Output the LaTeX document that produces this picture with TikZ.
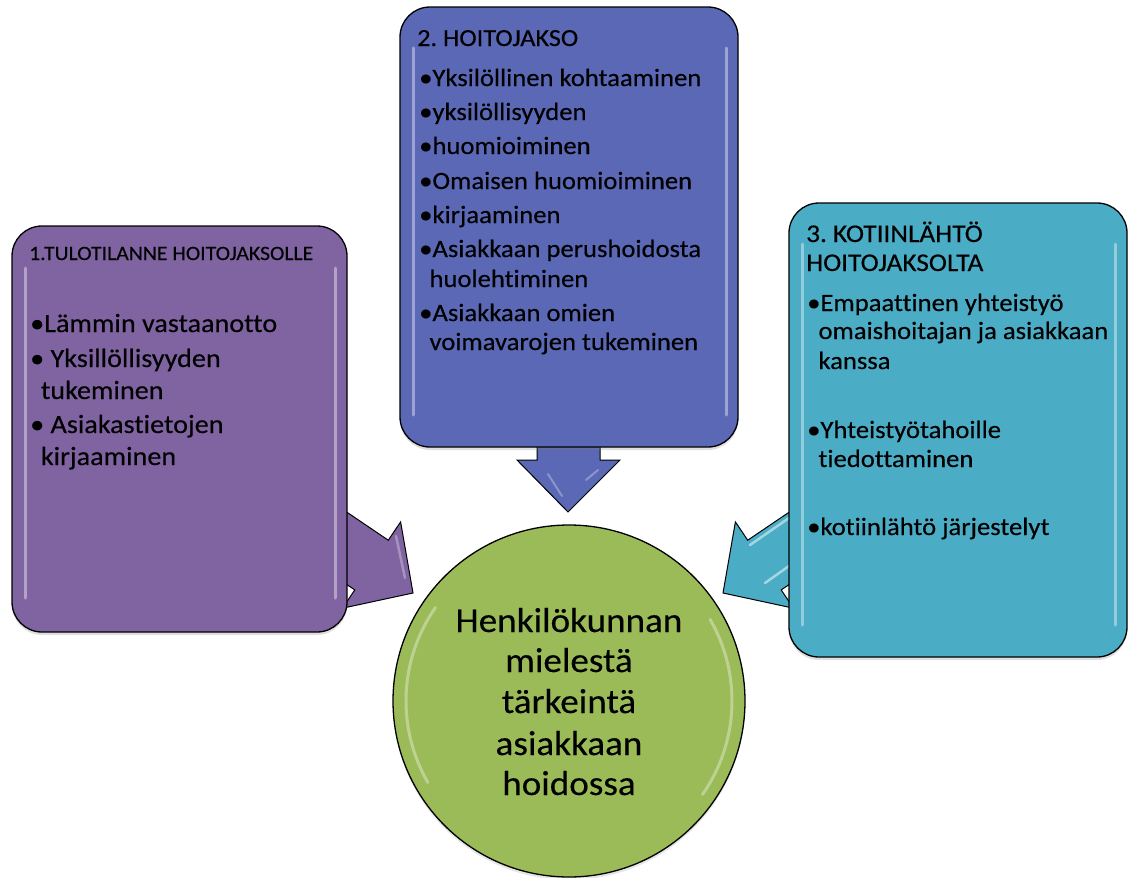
\documentclass[tikz,border=0pt]{standalone}
\usepackage{fontspec}
\setmainfont{Carlito}[FakeStretch=1.07, Ligatures={NoCommon}, FakeBold=0.3]
\frenchspacing
\usetikzlibrary{shadows}
\definecolor{cpurple}{HTML}{8064A2}
\definecolor{cblue}{HTML}{5A68B5}
\definecolor{caqua}{HTML}{4BACC6}
\definecolor{cgreen}{HTML}{9BBB59}
\tikzset{
  panel/.style={draw=black, line width=1.3pt, rounded corners=30pt,
    drop shadow={opacity=0.25, shadow xshift=0pt, shadow yshift=-3pt}},
  blockarrow/.style={draw=black, line width=1pt, line join=miter},
  gloss/.style={draw=white, line width=3pt, line cap=round, opacity=0.4},
  hdrL/.style={anchor=base west, inner sep=0pt, font=\fontsize{20.3}{25}\selectfont},
  txtL/.style={anchor=base west, inner sep=0pt, font=\fontsize{26.3}{30}\selectfont},
  txt/.style={anchor=base west, inner sep=0pt, font=\fontsize{24.9}{29}\selectfont},
  ctxt/.style={anchor=base, inner sep=0pt, font=\fontsize{34.7}{40}\selectfont},
}
\begin{document}
\begin{tikzpicture}[x=1pt, y=-1pt]
\useasboundingbox (0,0) rectangle (1130,878);

% block arrows (behind the panels)
\coordinate (tipL) at (413,593);
\coordinate (tipM) at (568,512);
\coordinate (tipR) at (723,593);
\draw[blockarrow, fill=cpurple] (tipL) -- (400.6,521.9) -- (388.3,540.2) -- (338.6,506.6)
  -- (305.0,556.4) -- (354.8,589.9) -- (342.5,608.2) -- cycle;
\draw[blockarrow, fill=cblue] (tipM) -- (620,460) -- (600,460) -- (600,400)
  -- (537,400) -- (537,460) -- (517,460) -- cycle;
\draw[blockarrow, fill=caqua] (tipR) -- (735.4,521.9) -- (747.7,540.2) -- (797.4,506.6)
  -- (831.0,556.4) -- (781.2,589.9) -- (793.5,608.2) -- cycle;
% arrow highlights
\draw[gloss, line width=2.5pt, opacity=0.3] (396,536) -- (405,578);
\draw[gloss, line width=2pt, opacity=0.3] (562,496) -- (548,474);
\draw[gloss, line width=2pt, opacity=0.3] (586,480) -- (598,470);
\draw[gloss, line width=2.5pt, opacity=0.5] (750,545) -- (789,518);
\draw[gloss, line width=2.5pt, opacity=0.5] (765,583) -- (789,566);

% panels
\draw[panel, fill=cpurple] (12,226) rectangle (347,632);
\draw[panel, fill=cblue] (400,7) rectangle (738,447);
\draw[panel, fill=caqua] (789,203) rectangle (1127,657);
\draw[gloss] (25,268) -- (25,598);
\draw[gloss] (335,268) -- (335,598);
\draw[gloss] (413,48) -- (413,415);
\draw[gloss] (726,48) -- (726,415);
\draw[gloss] (802,244) -- (802,625);
\draw[gloss] (1115,244) -- (1115,625);

% circle
\node[draw=black, line width=1.3pt, fill=cgreen, circle, minimum size=352pt,
  inner sep=0pt, drop shadow={opacity=0.2, shadow xshift=0pt, shadow yshift=-3pt}] (hub) at (569,701) {};
\draw[gloss, line width=3pt, opacity=0.35] (hub.center) ++(150:163) arc[start angle=150, end angle=215, radius=163];
\draw[gloss, line width=3pt, opacity=0.35] (hub.center) ++(-30:163) arc[start angle=-30, end angle=35, radius=163];

% texts: left panel
\node[hdrL] (l0) at (29,260) {1.TULOTILANNE HOITOJAKSOLLE};
\node[txtL] (l1) at (30,332) {•Lämmin vastaanotto};
\node[txtL] (l2) at (30,367) {• Yksillöllisyyden};
\node[txtL] (l3) at (40.7,399) {tukeminen};
\node[txtL] (l4) at (30,433) {• Asiakastietojen};
\node[txtL] (l5) at (40.7,465) {kirjaaminen};

% middle panel
\node[txt, font=\fontsize{24.5}{28}\selectfont] (m0) at (417,46) {2. HOITOJAKSO};
\node[txt] (m1) at (419,86) {•Yksilöllinen kohtaaminen};
\node[txt] (m2) at (419,120) {•yksilöllisyyden};
\node[txt] (m3) at (419,154) {•huomioiminen};
\node[txt] (m4) at (419,189) {•Omaisen huomioiminen};
\node[txt] (m5) at (419,223) {•kirjaaminen};
\node[txt] (m6) at (419,257) {•Asiakkaan perushoidosta};
\node[txt] (m7) at (429.3,287) {huolehtiminen};
\node[txt] (m8) at (419,321) {•Asiakkaan omien};
\node[txt] (m9) at (429.3,350) {voimavarojen tukeminen};

% right panel
\node[txt, font=\fontsize{25.5}{29}\selectfont] (r0) at (806,242) {3. KOTIINLÄHTÖ};
\node[txt, font=\fontsize{25.5}{29}\selectfont] (r1) at (806,271) {HOITOJAKSOLTA};
\node[txt] (r2) at (807,311) {•Empaattinen yhteistyö};
\node[txt] (r3) at (818.3,339) {omaishoitajan ja asiakkaan};
\node[txt] (r4) at (818.3,369) {kanssa};
\node[txt] (r5) at (807,438) {•Yhteistyötahoille};
\node[txt] (r6) at (818.3,467) {tiedottaminen};
\node[txt] (r7) at (807,535) {•kotiinlähtö järjestelyt};

% circle text
\node[ctxt] (c1) at (569,632) {Henkilökunnan};
\node[ctxt] (c2) at (569,672) {mielestä};
\node[ctxt] (c3) at (569,713) {tärkeintä};
\node[ctxt] (c4) at (569,755) {asiakkaan};
\node[ctxt] (c5) at (569,795) {hoidossa};
\end{tikzpicture}
\end{document}
